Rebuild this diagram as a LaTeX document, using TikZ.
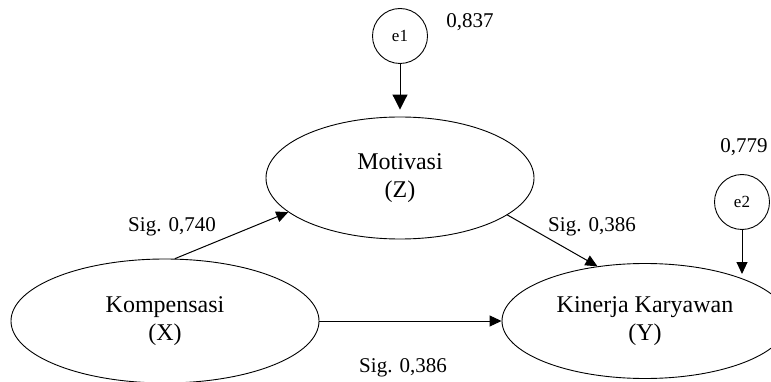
\documentclass[tikz,border=0pt]{standalone}
\usepackage{fontspec}
\setmainfont{Liberation Serif}
\usetikzlibrary{positioning,arrows.meta,shapes.geometric}

\begin{document}
\begin{tikzpicture}[
  x=1pt, y=-1pt,
  latent/.style={draw, ellipse, line width=0.9pt, align=center, inner sep=0pt,
    font=\fontsize{24}{28}\selectfont},
  errnode/.style={draw, circle, line width=0.9pt, minimum size=55pt, inner sep=0pt,
    font=\fontsize{17}{20}\selectfont},
  val/.style={font=\fontsize{21}{25}\selectfont},
  arr/.style={-{Triangle[length=12pt,width=11pt]}, line width=1pt},
  bigarr/.style={-{Triangle[length=15pt,width=15pt]}, line width=1pt}
]
\useasboundingbox (0,0) rectangle (771,382);
\clip (0,0) rectangle (771,382);

% Latent variables
\node[latent, minimum width=268pt, minimum height=122pt] (mot) at (400,178) {Motivasi\\(Z)};
\node[latent, minimum width=308pt, minimum height=124pt] (komp) at (165,321) {Kompensasi\\(X)};
\node[latent, minimum width=286pt, minimum height=115pt] (kin) at (645,321) {Kinerja Karyawan\\(Y)};

% Error terms
\node[errnode] (e1) at (400,36) {e1};
\node[errnode] (e2) at (742,202) {e2};
\node[val] (r1) at (470,22) {0,837};
\node[val] (r2) at (744,147) {0,779};

% Paths
\draw[bigarr, shorten >=7pt] (e1) -- (mot);
\coordinate (e2end) at (742,274);
\draw[arr] (e2) -- (e2end);
\draw[arr] (komp.81) -- (mot.197);
\draw[arr] (mot.-19) -- (kin.131);
\draw[arr] (komp.east) -- (kin.west);

% Path labels
\node[val] (s1) at (172,227) {Sig. 0,740};
\node[val] (s2) at (592,227) {Sig. 0,386};
\node[val] (s3) at (403,368) {Sig. 0,386};

\end{tikzpicture}
\end{document}
